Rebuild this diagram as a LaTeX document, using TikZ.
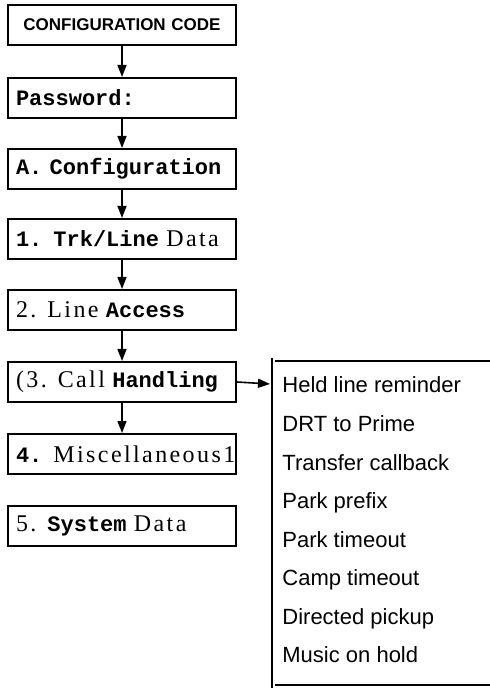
\documentclass[tikz,border=0pt]{standalone}
\usepackage{fontspec}
\setmainfont{Liberation Sans}
\newfontfamily\dotfont{Liberation Mono}
\newfontfamily\wideserif{Liberation Serif}[LetterSpace=10]
\usetikzlibrary{arrows.meta}
\newcommand{\spaced}[1]{{\wideserif\mdseries\fontsize{12}{14}\selectfont #1}}

\begin{document}
\begin{tikzpicture}[x=0.5pt, y=-0.5pt,
  screen/.style={draw, line width=1pt, minimum width=114pt, minimum height=20pt,
                 text width=106pt, align=left, inner xsep=4pt, inner ysep=2pt,
                 font=\fontsize{11}{13}\selectfont\dotfont\bfseries},
  flow/.style={-{Triangle[length=6pt,width=4.5pt]}, line width=0.8pt},
  item/.style={anchor=base west, inner sep=0pt, font=\fontsize{11}{13}\selectfont},
]
  \useasboundingbox (0,0) rectangle (490,688);

  % screens
  \node[screen, align=center, font=\fontsize{8.5}{10}\selectfont\bfseries] (code) at (122,25) {CONFIGURATION CODE};
  \node[screen] (pass) at (122,98) {Password:};
  \node[screen] (conf) at (122,169) {A. Configuration};
  \node[screen] (trk) at (122,239) {1. Trk/Line \spaced{Data}};
  \node[screen] (acc) at (122,310) {\spaced{2. Line} Access};
  \node[screen] (call) at (122,382) {\spaced{(3. Call} Handling};
  \node[screen] (misc) at (122,454) {4. \spaced{Miscellaneous1}};
  \node[screen] (sys) at (122,526) {\spaced{5.} System \spaced{Data}};

  \foreach \a/\b in {code/pass, pass/conf, conf/trk, trk/acc, acc/call, call/misc}
    \draw[flow] (\a) -- (\b);

  % call handling menu
  \coordinate (menu) at (270,384);
  \draw[flow] (call.east) -- (menu);
  \draw[line width=1.3pt] (272,358) -- (272,688);
  \draw[line width=1.3pt] (275,361) -- (490,361);
  \draw[line width=1.3pt] (275,685) -- (490,685);
  \foreach \t [count=\i from 0] in {Held line reminder, DRT to Prime, Transfer callback,
      Park prefix, Park timeout, Camp timeout, Directed pickup, Music on hold}
    \node[item] (opt\i) at (282,393+38.5*\i) {\t};
\end{tikzpicture}
\end{document}
